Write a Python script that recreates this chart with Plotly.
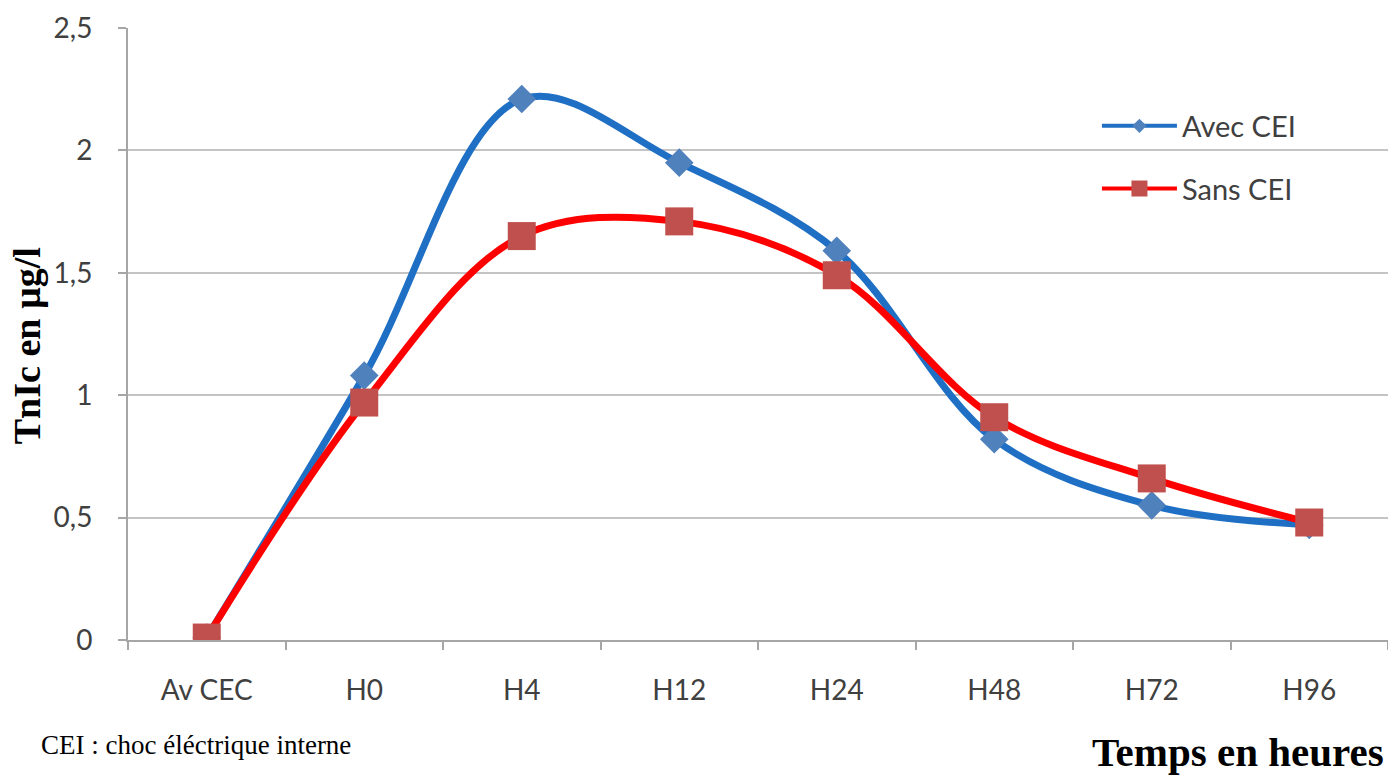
import plotly.graph_objects as go

# Time points and troponin values (µg/l)
categories = ["Av CEC", "H0", "H4", "H12", "H24", "H48", "H72", "H96"]
avec_cei = [0.01, 1.08, 2.21, 1.95, 1.59, 0.82, 0.55, 0.47]
sans_cei = [0.01, 0.97, 1.65, 1.71, 1.49, 0.91, 0.66, 0.48]
y_ticks = [0, 0.5, 1, 1.5, 2, 2.5]
y_tick_text = ["0", "0,5", "1", "1,5", "2", "2,5"]

tick_font = dict(family="Lato, Open Sans, sans-serif", size=28, color="#404040")
serif = "Liberation Serif, Times New Roman, serif"

BLUE_LINE, BLUE_MARK = "#1F6FC4", "#4F81BD"
RED_LINE, RED_MARK = "#FF0000", "#C0504D"

fig = go.Figure()
fig.add_trace(go.Scatter(
    x=categories, y=avec_cei, name="Avec CEI", showlegend=False,
    mode="lines+markers",
    line=dict(color=BLUE_LINE, width=7, shape="spline", smoothing=1),
    marker=dict(symbol="diamond", size=22, color=BLUE_MARK),
))
fig.add_trace(go.Scatter(
    x=categories, y=sans_cei, name="Sans CEI", showlegend=False,
    mode="lines+markers",
    line=dict(color=RED_LINE, width=7, shape="spline", smoothing=1),
    marker=dict(symbol="square", size=28, color=RED_MARK),
))

# Legend entries with a lighter line and smaller markers
fig.add_trace(go.Scatter(
    x=[None], y=[None], name="Avec CEI", legendgroup="a", mode="lines+markers",
    line=dict(color=BLUE_LINE, width=4),
    marker=dict(symbol="diamond", size=11, color=BLUE_MARK),
))
fig.add_trace(go.Scatter(
    x=[None], y=[None], name="Sans CEI", legendgroup="b", mode="lines+markers",
    line=dict(color=RED_LINE, width=4),
    marker=dict(symbol="square", size=16, color=RED_MARK),
))

fig.update_layout(
    width=1388, height=780,
    margin=dict(l=128, r=0, t=28, b=140),
    paper_bgcolor="white", plot_bgcolor="white",
    showlegend=True,
    legend=dict(
        x=0.769, y=0.8815, xanchor="left", yanchor="top",
        bgcolor="rgba(0,0,0,0)", font=dict(tick_font, size=29),
        itemwidth=75, tracegroupgap=22,
    ),
    xaxis=dict(
        type="category", range=[-0.5, 7.5],
        showline=True, linecolor="#A6A6A6", linewidth=2,
        ticks="outside", tickson="boundaries", ticklen=8, tickcolor="#A6A6A6", tickwidth=2,
        showgrid=False, tickfont=tick_font, ticklabelstandoff=24,
    ),
    yaxis=dict(
        range=[0, 2.5], tickvals=y_ticks, ticktext=y_tick_text,
        showline=True, linecolor="#A6A6A6", linewidth=2,
        ticks="outside", ticklen=8, tickcolor="#A6A6A6", tickwidth=2,
        showgrid=True, gridcolor="#C4C4C4", gridwidth=2,
        zeroline=False, tickfont=tick_font, ticklabelstandoff=20,
    ),
    annotations=[
        dict(text="<b>TnIc en µg/l</b>", textangle=-90, xref="paper", yref="paper",
             x=-0.0984, y=0.48, showarrow=False,
             font=dict(family=serif, size=38, color="black")),
        dict(text="CEI : choc éléctrique interne", xref="paper", yref="paper",
             x=-0.071, y=-0.1716, xanchor="left", yanchor="middle", showarrow=False,
             font=dict(family=serif, size=27, color="black")),
        dict(text="<b>Temps en heures</b>", xref="paper", yref="paper",
             x=0.9985, y=-0.183, xanchor="right", yanchor="middle", showarrow=False,
             font=dict(family=serif, size=41, color="black")),
    ],
)

fig.write_html("out.html")
